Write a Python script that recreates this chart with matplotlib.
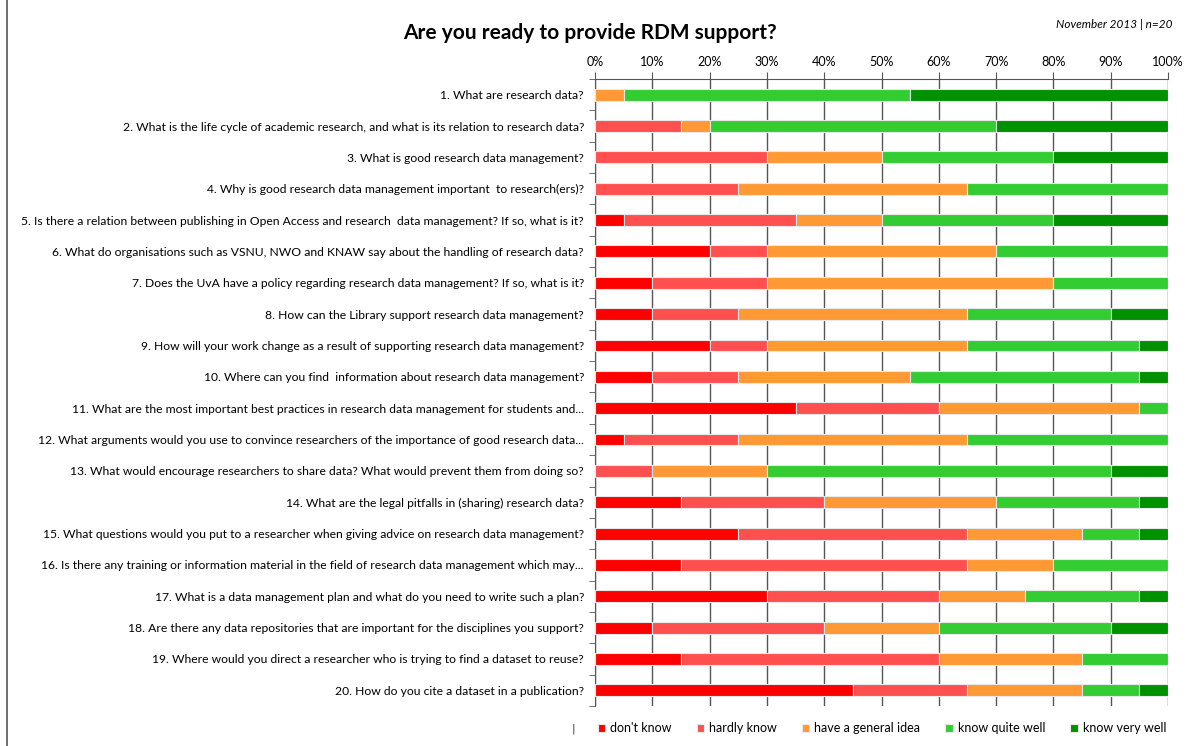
import matplotlib.pyplot as plt
import numpy as np

questions = [
    "1. What are research data?",
    "2. What is the life cycle of academic research, and what is its relation to research data?",
    "3. What is good research data management?",
    "4. Why is good research data management important  to research(ers)?",
    "5. Is there a relation between publishing in Open Access and research  data management? If so, what is it?",
    "6. What do organisations such as VSNU, NWO and KNAW say about the handling of research data?",
    "7. Does the UvA have a policy regarding research data management? If so, what is it?",
    "8. How can the Library support research data management?",
    "9. How will your work change as a result of supporting research data management?",
    "10. Where can you find  information about research data management?",
    "11. What are the most important best practices in research data management for students and...",
    "12. What arguments would you use to convince researchers of the importance of good research data...",
    "13. What would encourage researchers to share data? What would prevent them from doing so?",
    "14. What are the legal pitfalls in (sharing) research data?",
    "15. What questions would you put to a researcher when giving advice on research data management?",
    "16. Is there any training or information material in the field of research data management which may...",
    "17. What is a data management plan and what do you need to write such a plan?",
    "18. Are there any data repositories that are important for the disciplines you support?",
    "19. Where would you direct a researcher who is trying to find a dataset to reuse?",
    "20. How do you cite a dataset in a publication?",
]

categories = ["don't know", "hardly know", "have a general idea", "know quite well", "know very well"]
colors = ["#FF0000", "#FF4F4F", "#FF9933", "#33CC33", "#009100"]

dont_know = [0, 0, 0, 0, 5, 20, 10, 10, 20, 10, 35, 5, 0, 15, 25, 15, 30, 10, 15, 45]
hardly_know = [0, 15, 30, 25, 30, 10, 20, 15, 10, 15, 25, 20, 10, 25, 40, 50, 30, 30, 45, 20]
general_idea = [5, 5, 20, 40, 15, 40, 50, 40, 35, 30, 35, 40, 20, 30, 20, 15, 15, 20, 25, 20]
quite_well = [50, 50, 30, 35, 30, 30, 20, 25, 30, 40, 5, 35, 60, 25, 10, 20, 20, 30, 15, 10]
very_well = [45, 30, 20, 0, 20, 0, 0, 10, 5, 5, 0, 0, 10, 5, 5, 0, 5, 10, 0, 5]

series = [dont_know, hardly_know, general_idea, quite_well, very_well]

fig = plt.figure(figsize=(11.95, 7.46), dpi=100)
ax = fig.add_axes([595 / 1195, 1 - 706 / 746, 573 / 1195, 627 / 746])

y = np.arange(len(questions))
left = np.zeros(len(questions))
for vals, name, col in zip(series, categories, colors):
    vals = np.array(vals, dtype=float)
    ax.barh(y, vals, left=left, height=0.38, color=col, edgecolor="#e8e8e8",
            linewidth=0.8, label=name, zorder=3)
    left += vals

ax.set_xlim(0, 100)
ax.set_ylim(len(questions) - 0.5, -0.5)
ax.xaxis.tick_top()
ax.set_xticks(np.arange(0, 101, 10))
ax.set_xticklabels([f"{v}%" for v in range(0, 101, 10)], family="Lato", fontsize=9)
ax.tick_params(axis="x", direction="out", length=5, color="#555555", pad=3)
ax.grid(axis="x", color="#555555", linewidth=1, zorder=0)

ax.set_yticks(y)
ax.set_yticklabels(questions, family="Lato", fontsize=8.75)
ax.set_yticks(np.arange(-0.5, len(questions), 1), minor=True)
ax.tick_params(axis="y", which="major", length=0, pad=8)
ax.tick_params(axis="y", which="minor", length=4, color="#555555")

for side in ["right", "bottom"]:
    ax.spines[side].set_visible(False)
ax.spines["top"].set_color("#555555")
ax.spines["left"].set_color("#555555")

fig.text(590 / 1195, 1 - 33 / 746, "Are you ready to provide RDM support?",
         ha="center", va="center", family="Lato", fontweight="bold", fontsize=15)
fig.text(1172 / 1195, 1 - 25 / 746, "November 2013 | n=20",
         ha="right", va="center", family="Lato", style="italic", fontsize=8.5)

fig.text(573 / 1195, 1 - 729 / 746, "|", ha="center", va="center", fontsize=8, color="#333333")
fig.legend(loc="center", bbox_to_anchor=(882 / 1195, 1 - 728 / 746), ncol=5, frameon=False,
           prop={"family": "Lato", "size": 9}, handlelength=0.6, handleheight=0.6,
           handletextpad=0.4, columnspacing=2.0)

# thin frame line on the left edge
fig.add_artist(plt.Line2D([7 / 1195, 7 / 1195], [0, 1], color="#555555", linewidth=1.2))

fig.savefig("out.png", dpi=100)
